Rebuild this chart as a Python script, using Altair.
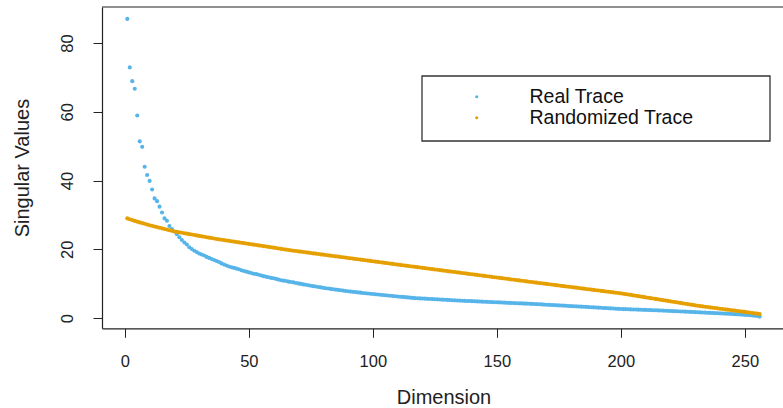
import altair as alt
import pandas as pd

series_names = ["Real Trace", "Randomized Trace"]
series_colors = ["#56B4E9", "#E69F00"]
x_ticks = [0, 50, 100, 150, 200, 250]
y_ticks = [0, 20, 40, 60, 80]

real_trace = [
    87.0, 72.9, 68.9, 66.7, 58.9, 51.4, 49.8, 44.0, 41.6, 39.9,
    37.4, 34.8, 34.0, 32.4, 30.7, 29.0, 28.3, 26.8, 25.9, 25.2,
    24.4, 23.5, 22.7, 22.0, 21.4, 20.6, 20.1, 19.6, 19.2, 18.8,
    18.5, 18.2, 17.8, 17.5, 17.2, 16.9, 16.6, 16.3, 15.9, 15.6,
    15.3, 15.0, 14.8, 14.6, 14.4, 14.2, 13.9, 13.7, 13.5, 13.3,
    13.1, 12.9, 12.8, 12.6, 12.4, 12.2, 12.0, 11.9, 11.7, 11.6,
    11.4, 11.2, 11.0, 10.9, 10.8, 10.6, 10.5, 10.4, 10.2, 10.1,
    9.95, 9.8, 9.7, 9.55, 9.4, 9.3, 9.2, 9.05, 8.95, 8.8,
    8.7, 8.6, 8.5, 8.4, 8.3, 8.2, 8.1, 8.0, 7.9, 7.8,
    7.72, 7.64, 7.56, 7.48, 7.4, 7.32, 7.24, 7.16, 7.08, 7.0,
    6.93, 6.86, 6.79, 6.72, 6.65, 6.58, 6.51, 6.44, 6.37, 6.3,
    6.23, 6.16, 6.09, 6.02, 5.95, 5.88, 5.81,
    5.77, 5.73, 5.69, 5.65, 5.61, 5.57, 5.53, 5.49, 5.45, 5.41,
    5.37, 5.33, 5.29, 5.25, 5.21, 5.17, 5.12,
    5.09, 5.06, 5.02, 4.99, 4.96, 4.93, 4.89, 4.86, 4.83, 4.79,
    4.76, 4.73, 4.69, 4.66, 4.63, 4.6,
    4.57, 4.53, 4.5, 4.47, 4.43, 4.4, 4.37, 4.33, 4.3, 4.27,
    4.23, 4.2, 4.17, 4.13, 4.1,
    4.06, 4.02, 3.98, 3.94, 3.9, 3.86, 3.82, 3.78, 3.74, 3.7,
    3.66, 3.62, 3.58, 3.54, 3.5, 3.46, 3.42, 3.38, 3.34, 3.3,
    3.26, 3.21, 3.17, 3.13, 3.08, 3.04, 3.0, 2.95, 2.91, 2.87,
    2.82, 2.78, 2.74, 2.69, 2.65,
    2.62, 2.6, 2.57, 2.54, 2.52, 2.49, 2.46, 2.44, 2.41, 2.38,
    2.36, 2.33, 2.3, 2.28, 2.25,
    2.22, 2.18, 2.15, 2.11, 2.08, 2.05, 2.01, 1.98, 1.94, 1.91,
    1.87, 1.84, 1.81, 1.77, 1.74, 1.7,
    1.66, 1.63, 1.59, 1.56, 1.52, 1.48, 1.45, 1.41, 1.38, 1.34,
    1.31, 1.27, 1.24, 1.2,
    1.15, 1.1, 1.05, 1.0, 0.95, 0.9, 0.84, 0.77, 0.69, 0.6, 0.45,
]

randomized_trace = [
    29.0, 28.75, 28.5, 28.27, 28.05, 27.83, 27.62, 27.42, 27.22, 27.02,
    26.83, 26.64, 26.46, 26.28, 26.1, 25.92, 25.74, 25.56, 25.38, 25.2,
    25.07, 24.94, 24.81, 24.68, 24.55, 24.42, 24.3, 24.17, 24.04, 23.91,
    23.78, 23.66, 23.53, 23.4, 23.28, 23.15, 23.02, 22.9,
    22.79, 22.68, 22.57, 22.46, 22.35, 22.24, 22.13, 22.02, 21.91, 21.8,
    21.69, 21.58, 21.47, 21.36, 21.25, 21.14, 21.03, 20.92, 20.81, 20.7,
    20.59, 20.48, 20.37, 20.26, 20.15, 20.04, 19.93, 19.82, 19.7,
    19.6, 19.51, 19.41, 19.32, 19.22, 19.12, 19.03, 18.93, 18.84, 18.74,
    18.64, 18.55, 18.45, 18.36, 18.26, 18.16, 18.07, 17.97, 17.88, 17.78,
    17.68, 17.59, 17.49, 17.4, 17.3, 17.2, 17.11, 17.01, 16.92, 16.82,
    16.72, 16.63, 16.53, 16.44, 16.34, 16.24, 16.15, 16.05, 15.96, 15.86,
    15.76, 15.67, 15.57, 15.48, 15.38, 15.28, 15.19, 15.09, 15.0, 14.9,
    14.81, 14.71, 14.62, 14.53, 14.43, 14.34, 14.24, 14.15, 14.06, 13.96,
    13.87, 13.78, 13.68, 13.59, 13.49, 13.4, 13.31, 13.21, 13.12, 13.03,
    12.93, 12.84, 12.74, 12.65, 12.56, 12.46, 12.37, 12.28, 12.18, 12.09,
    11.99, 11.9, 11.81, 11.71, 11.62, 11.53, 11.43, 11.34, 11.24, 11.15,
    11.06, 10.96, 10.87, 10.78, 10.68, 10.59, 10.49, 10.4,
    10.31, 10.22, 10.13, 10.03, 9.94, 9.85, 9.76, 9.67, 9.58, 9.49,
    9.39, 9.3, 9.21, 9.12, 9.03, 8.94, 8.85, 8.75, 8.66, 8.57,
    8.48, 8.39, 8.3, 8.21, 8.11, 8.02, 7.93, 7.84, 7.75, 7.66,
    7.57, 7.47, 7.38, 7.29, 7.2,
    7.08, 6.97, 6.85, 6.74, 6.62, 6.5, 6.39, 6.27, 6.16, 6.04,
    5.92, 5.81, 5.69, 5.58, 5.46, 5.34, 5.23, 5.11, 5.0, 4.88,
    4.76, 4.65, 4.53, 4.42, 4.3, 4.18, 4.07, 3.95, 3.84, 3.72,
    3.6,
    3.5, 3.41, 3.31, 3.22, 3.12, 3.03, 2.93, 2.84, 2.74,
    2.65, 2.55, 2.46, 2.36, 2.27, 2.17, 2.08, 1.98, 1.89, 1.8,
    1.7, 1.6, 1.5, 1.4, 1.3, 1.2,
]

rows = []
for name, vals in zip(series_names, [real_trace, randomized_trace]):
    for i, v in enumerate(vals):
        rows.append({"Dimension": i + 1, "value": v, "series": name})
df = pd.DataFrame(rows)

FONT = "Liberation Sans"
W, H = 681, 321.3

points = alt.Chart(df).mark_circle(size=17, opacity=1).encode(
    x=alt.X(
        "Dimension:Q",
        scale=alt.Scale(domain=[-9.2, 265.4], nice=False, zero=False),
        axis=alt.Axis(
            values=x_ticks, grid=False, title="Dimension",
            titleX=341.5, titleY=75.5, titleBaseline="alphabetic",
            titleAlign="center", titleFontSize=20, titleFontWeight="normal",
            titleFont=FONT, titleColor="#222",
            labelFont=FONT, labelFontSize=16.5, labelColor="#222",
            labelBaseline="alphabetic", labelPadding=29.5, tickSize=9,
            tickColor="#222", domainColor="#222", domainWidth=1.2,
            labelFlush=False,
        ),
    ),
    y=alt.Y(
        "value:Q",
        scale=alt.Scale(domain=[-2.96, 90.46], nice=False, zero=False),
        axis=alt.Axis(
            values=y_ticks, grid=False, title="Singular Values",
            titleX=-73.5, titleY=160.6, titleAngle=270,
            titleBaseline="alphabetic", titleAlign="center",
            titleFontSize=20, titleFontWeight="normal", titleFont=FONT,
            titleColor="#222",
            labelFont=FONT, labelFontSize=16.5, labelColor="#222",
            labelAngle=270, labelAlign="center", labelBaseline="alphabetic",
            labelPadding=21, tickSize=9, tickColor="#222",
            domainColor="#222", domainWidth=1.2, labelFlush=False,
        ),
    ),
    color=alt.Color(
        "series:N",
        scale=alt.Scale(domain=series_names, range=series_colors),
        legend=alt.Legend(
            orient="none", legendX=365, legendY=80, title=None,
            labelFont=FONT, labelFontSize=19.5, labelColor="#111",
            labelLimit=400, labelOffset=43, symbolSize=10,
            symbolType="circle", symbolOpacity=1, symbolStrokeWidth=0,
            padding=0, rowPadding=0,
        ),
    ),
    order=alt.Order("series_order:Q"),
).transform_calculate(
    series_order="datum.series == 'Real Trace' ? 0 : 1"
)

top_border = alt.Chart(df).mark_rule(color="#222", strokeWidth=1.2).encode(
    x=alt.value(0), x2=alt.value(W), y=alt.value(0)
).transform_filter("datum.Dimension == 1 && datum.series == 'Real Trace'")

legend_box = alt.Chart(df).mark_rect(
    fill="white", fillOpacity=0, stroke="#333", strokeWidth=1.3
).encode(
    x=alt.value(320), x2=alt.value(668), y=alt.value(69), y2=alt.value(134)
).transform_filter("datum.Dimension == 1 && datum.series == 'Real Trace'")

chart = alt.layer(legend_box, points, top_border).properties(
    width=W, height=H,
    autosize=alt.AutoSizeParams(type="none"),
    padding={"left": 102, "top": 7, "right": 0, "bottom": 80},
    background="white",
).configure_view(stroke=None)

chart.save("out.html", embed_options={"renderer": "svg", "actions": False})
